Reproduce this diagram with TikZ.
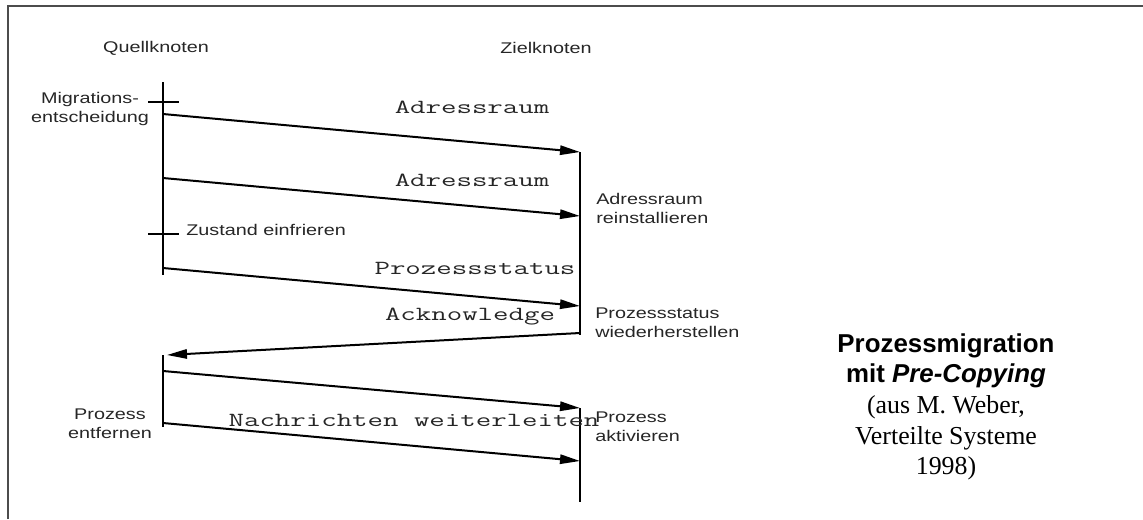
\documentclass[tikz,border=0pt]{standalone}
\usepackage{fontspec}
\usepackage{tikz}
\usetikzlibrary{arrows.meta}
\setmainfont{Liberation Serif}
\newfontfamily\labelfont[FakeStretch=1.28]{Liberation Sans}
\newfontfamily\msgfont[FakeStretch=1.5]{Latin Modern Mono}
\newfontfamily\titlefont{Liberation Sans}

\begin{document}
\begin{tikzpicture}[x=0.75pt, y=-0.75pt,
  lifeline/.style = {line width=2.1pt},
  tick/.style = {line width=1.1pt},
  msg/.style = {-{Triangle[length=15pt,width=7pt]}, line width=1.5pt},
  msgtext/.style = {font=\msgfont\fontsize{15}{17}\selectfont, inner sep=0pt, text=black!85},
  note/.style = {font=\labelfont\fontsize{11.6}{14.3}\selectfont, inner sep=0pt, text=black!85}]
\useasboundingbox (0,0) rectangle (1143,519);
\draw [gray!60!black, line width=1.4pt] (8,519) -- (8,6) -- (1143,6);

% Knoten
\node [note] (quell) at (156,48) {Quellknoten};
\node [note] (ziel) at (546,48) {Zielknoten};

% Lebenslinien
\coordinate (q0) at (163,82);   \coordinate (q1) at (163,275);
\coordinate (q2) at (163,355);  \coordinate (q3) at (163,427);
\coordinate (z0) at (580,152);  \coordinate (z1) at (580,335);
\coordinate (z2) at (580,408);  \coordinate (z3) at (580,502);
\draw [lifeline] (q0) -- (q1);
\draw [lifeline] (q2) -- (q3);
\draw [lifeline] (z0) -- (z1);
\draw [lifeline] (z2) -- (z3);

\draw [tick] (148,102) -- (179,102);
\draw [tick] (148,234) -- (179,234);

% Nachrichten
\coordinate (s1) at (163,114);  \coordinate (e1) at (580,152);
\coordinate (s2) at (163,178);  \coordinate (e2) at (580,216);
\coordinate (s3) at (163,268);  \coordinate (e3) at (580,306);
\coordinate (s4) at (580,333);  \coordinate (e4) at (167,355);
\coordinate (s5) at (163,371);  \coordinate (e5) at (580,408);
\coordinate (s6) at (163,423);  \coordinate (e6) at (580,461);
\draw [msg] (s1) -- (e1);
\draw [msg] (s2) -- (e2);
\draw [msg] (s3) -- (e3);
\draw [msg] (s4) -- (e4);
\draw [msg] (s5) -- (e5);
\draw [msg] (s6) -- (e6);

\node [msgtext] (m1) at (472,107) {Adressraum};
\node [msgtext] (m2) at (472,180) {Adressraum};
\node [msgtext] (m3) at (475,268) {Prozessstatus};
\node [msgtext] (m4) at (470,317) {Acknowledge};
\node [msgtext] (m5) at (414,420) {Nachrichten weiterleiten};

% Beschriftungen
\node [note, align=center] (migr) at (90,109) {Migrations-\\entscheidung};
\node [note, anchor=west] (frz) at (186,230) {Zustand einfrieren};
\node [note, align=center] (entf) at (110,424) {Prozess\\entfernen};
\node [note, align=left, anchor=west] (rein) at (596,208) {Adressraum\\reinstallieren};
\node [note, align=left, anchor=west] (wied) at (595,323) {Prozessstatus\\wiederherstellen};
\node [note, align=left, anchor=west] (akt) at (595,427) {Prozess\\aktivieren};

\node [align=center, font=\fontsize{19.4}{23}\selectfont] (title) at (946,407)
  {{\titlefont\bfseries Prozessmigration}\\
   {\titlefont\bfseries mit \itshape Pre-Copying}\\
   (aus M. Weber,\\
   Verteilte Systeme\\
   1998)};
\end{tikzpicture}
\end{document}
